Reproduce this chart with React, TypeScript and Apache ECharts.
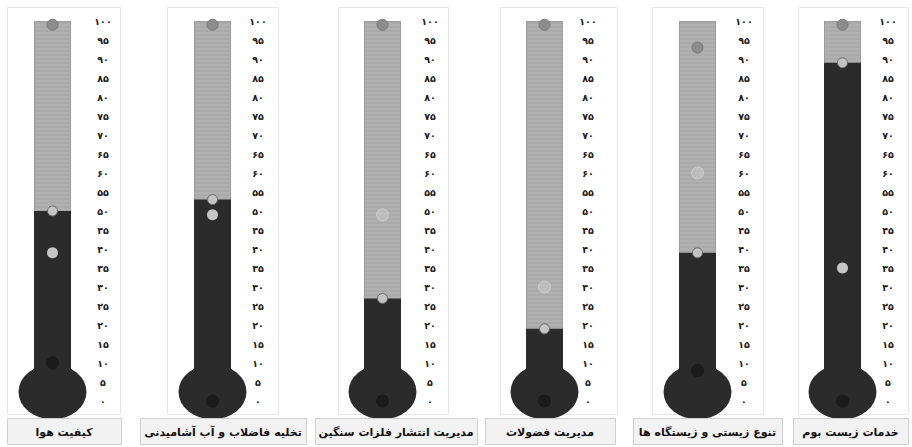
import React, { useEffect, useRef } from "react";
import * as echarts from "echarts";

// ---- data ----
const categories = [
  "کیفیت هوا",
  "تخلیه فاضلاب و آب آشامیدنی",
  "مدیریت انتشار فلزات سنگین",
  "مدیریت فضولات",
  "تنوع زیستی و زیستگاه ها",
  "خدمات زیست بوم",
];
const fillValues = [50, 53, 27, 19, 39, 89];
const topDots = [99, 99, 99, 99, 93, 99];
const lightDots: (number | null)[] = [39, 49, null, null, null, 35];
const faintDots: (number | null)[] = [null, null, 49, 30, 60, null];
const darkDots = [10, 0, 0, 0, 8, 0];
const axisMin = 0;
const axisMax = 100;
const axisStep = 5;

// ---- layout / style ----
const tubeLeft = [34, 194, 364, 526, 679, 824];
const labelMargin = [32, 27, 29, 25, 28, 27];
const TUBE_W = 37;
const GRID_TOP = 21;
const GRID_H = 380;
const BULB_V = 2.4;
const panelBox = [
  [7, 120],
  [167, 278],
  [338, 448],
  [500, 617],
  [652, 763],
  [798, 908],
];
const labelBox = [
  [7, 121],
  [140, 306],
  [315, 477],
  [485, 615],
  [633, 782],
  [793, 908],
];
const DARK = "#2b2b2b";
const LABEL_FONT = 'bold 11px "DejaVu Sans"';
const FA = "۰۱۲۳۴۵۶۷۸۹";
const toFa = (v: number) => String(v).replace(/\d/g, (d) => FA[+d]);
const ELLIPSE = "path://M0 50A50 50 0 1 1 100 50A50 50 0 1 1 0 50Z";

function measure(text: string): number {
  const c = document.createElement("canvas");
  const ctx = c.getContext("2d");
  if (!ctx) return 0;
  ctx.font = LABEL_FONT;
  return ctx.measureText(text).width;
}

export default function App() {
  const ref = useRef<HTMLDivElement>(null);
  useEffect(() => {
    if (!ref.current) return;
    const chart = echarts.init(ref.current, undefined, { renderer: "svg" });
    const grid: any[] = [];
    const xAxis: any[] = [];
    const yAxis: any[] = [];
    const series: any[] = [];
    const graphic: any[] = [];

    categories.forEach((cat, i) => {
      grid.push({ left: tubeLeft[i], top: GRID_TOP, width: TUBE_W, height: GRID_H });
      xAxis.push({
        type: "category",
        gridIndex: i,
        data: [cat],
        show: false,
      });
      yAxis.push({
        type: "value",
        gridIndex: i,
        min: axisMin,
        max: axisMax,
        interval: axisStep,
        position: "right",
        axisLine: { show: false },
        axisTick: { show: false },
        splitLine: { show: false },
        axisLabel: {
          formatter: (v: number) => toFa(v),
          fontFamily: "DejaVu Sans",
          fontWeight: "bold",
          fontSize: 9.5,
          color: "#1a1a1a",
          align: "center",
          margin: labelMargin[i],
        },
      });
      const ax = { xAxisIndex: i, yAxisIndex: i };
      series.push({
        type: "bar",
        ...ax,
        data: [axisMax],
        barWidth: TUBE_W,
        barGap: "-100%",
        silent: true,
        z: 1,
        itemStyle: {
          color: "#aaaaaa",
          borderColor: "#9c9c9c",
          borderWidth: 1,
          decal: {
            symbol: "rect",
            symbolSize: 1,
            dashArrayX: [1, 0],
            dashArrayY: [2, 2],
            color: "rgba(255,255,255,0.07)",
            rotation: 0,
          },
        },
      });
      series.push({
        type: "bar",
        ...ax,
        data: [fillValues[i]],
        barWidth: TUBE_W,
        barGap: "-100%",
        silent: true,
        z: 2,
        itemStyle: { color: DARK },
      });
      series.push({
        type: "scatter",
        ...ax,
        data: [[0, BULB_V]],
        symbol: ELLIPSE,
        symbolSize: [68, 55],
        clip: false,
        silent: true,
        z: 3,
        itemStyle: { color: DARK, opacity: 1 },
      });
      series.push({
        type: "scatter",
        ...ax,
        data: [[0, topDots[i]]],
        symbolSize: 11,
        clip: false,
        z: 4,
        itemStyle: { color: "#8c8c8c", borderColor: "#7a7a7a", borderWidth: 1, opacity: 1 },
      });
      series.push({
        type: "scatter",
        ...ax,
        data: [[0, fillValues[i]]],
        symbolSize: 10,
        clip: false,
        z: 4,
        itemStyle: { color: "#c4c4c4", borderColor: "#6a6a6a", borderWidth: 1, opacity: 1 },
      });
      if (lightDots[i] !== null) {
        series.push({
          type: "scatter",
          ...ax,
          data: [[0, lightDots[i]]],
          symbolSize: 11,
          clip: false,
          z: 4,
          itemStyle: { color: "#c6c6c6", opacity: 1 },
        });
      }
      if (faintDots[i] !== null) {
        series.push({
          type: "scatter",
          ...ax,
          data: [[0, faintDots[i]]],
          symbolSize: 12,
          clip: false,
          z: 4,
          itemStyle: { color: "rgba(200,200,200,0.6)", borderColor: "rgba(215,215,215,0.7)", borderWidth: 1, opacity: 1 },
        });
      }
      series.push({
        type: "scatter",
        ...ax,
        data: [[0, darkDots[i]]],
        symbolSize: 13,
        clip: false,
        z: 4,
        itemStyle: { color: "#1b1b1b", opacity: 1 },
      });

      graphic.push({
        type: "rect",
        z: -10,
        silent: true,
        shape: { x: panelBox[i][0] + 0.5, y: 7.5, width: panelBox[i][1] - panelBox[i][0], height: 407 },
        style: { fill: "#fff", stroke: "#e6e6e6", lineWidth: 1 },
      });
      const [l, r] = labelBox[i];
      graphic.push({
        type: "rect",
        z: 10,
        silent: true,
        shape: { x: l + 0.5, y: 418.5, width: r - l, height: 26 },
        style: { fill: "#f2f2f2", stroke: "#cfcfcf", lineWidth: 1 },
      });
      const w = measure(cat);
      graphic.push({
        type: "text",
        z: 11,
        silent: true,
        x: (l + r) / 2 - w / 2,
        y: 432,
        style: {
          text: cat,
          fill: "#111",
          font: LABEL_FONT,
          align: "left",
          verticalAlign: "middle",
        },
      });
    });

    chart.setOption({
      animation: false,
      backgroundColor: "#fff",
      grid,
      xAxis,
      yAxis,
      series,
      graphic,
    });
    return () => chart.dispose();
  }, []);
  return (
    <div
      ref={ref}
      style={{ position: "fixed", left: 0, top: 0, width: 912, height: 447 }}
    />
  );
}
